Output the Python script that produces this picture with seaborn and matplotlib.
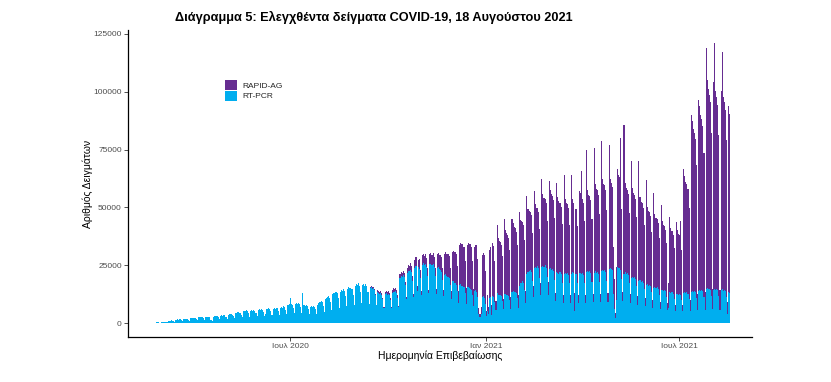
import numpy as np
import pandas as pd
import matplotlib
matplotlib.use("Agg")
import matplotlib.pyplot as plt
import matplotlib.dates as mdates
import seaborn as sns

# ---------------- data (daily values, thousands of samples) ----------------
start_date = "2020-02-24"          # first Monday of the series
series_names = ["RAPID-AG", "RT-PCR"]
series_colors = ["#662D91", "#00AEEF"]
tick_dates = ["2020-07-01", "2021-01-01", "2021-07-01"]
tick_labels = ["Ιουλ 2020", "Ιαν 2021", "Ιουλ 2021"]
y_ticks = [0, 25000, 50000, 75000, 100000, 125000]

# one line per week, Monday .. Sunday
rtpcr_k = [
    0, 0, 0.2, 0.3, 0.3, 0.3, 0.2,
    0.4, 0.5, 0.6, 0.6, 0.6, 0.5, 0.3,
    0.9, 1.0, 1.0, 1.1, 1.0, 0.8, 0.6,
    1.5, 1.6, 1.5, 1.7, 1.6, 1.3, 0.9,
    1.8, 1.9, 1.7, 1.9, 1.8, 1.5, 1.0,
    2.1, 2.2, 2.1, 2.3, 2.0, 1.8, 1.2,
    2.4, 2.6, 2.5, 2.7, 2.4, 2.1, 1.4,
    2.5, 2.8, 2.6, 2.4, 1.5, 1.2, 0.9,
    2.4, 3.0, 3.1, 3.2, 2.9, 2.4, 1.6,
    3.1, 3.3, 3.2, 3.4, 2.4, 2.5, 1.7,
    3.6, 3.8, 3.7, 3.9, 3.6, 3.0, 2.0,
    4.3, 4.5, 4.6, 4.8, 4.4, 3.6, 2.4,
    5.0, 5.3, 5.1, 5.5, 5.2, 4.2, 2.8,
    5.4, 5.6, 5.3, 5.7, 5.4, 4.5, 3.0,
    5.5, 5.9, 5.7, 6.0, 5.6, 4.7, 3.1,
    4.1, 6.2, 6.0, 6.3, 5.9, 5.0, 3.3,
    6.1, 6.4, 6.2, 6.6, 6.3, 5.1, 3.4,
    6.6, 6.9, 6.7, 7.2, 6.8, 5.5, 3.7,
    7.6, 8.2, 10.8, 8.4, 7.9, 6.6, 4.3,
    8.1, 8.6, 8.3, 8.8, 8.2, 6.9, 4.5,
    12.8, 7.9, 7.4, 7.7, 7.2, 6.2, 4.1,
    6.9, 7.3, 7.1, 7.5, 7.0, 5.9, 3.9,
    7.8, 8.6, 8.9, 9.4, 9.1, 7.4, 4.8,
    10.2, 10.9, 11.3, 11.6, 11.0, 9.0, 5.8,
    12.4, 13.1, 12.8, 13.5, 12.9, 10.6, 6.7,
    13.6, 14.2, 13.9, 14.6, 13.8, 11.5, 7.3,
    14.8, 15.7, 15.1, 15.3, 14.6, 12.3, 7.9,
    16.0, 16.8, 16.4, 17.1, 16.2, 13.4, 8.6,
    16.3, 16.9, 16.2, 16.7, 15.8, 13.2, 8.4,
    15.2, 15.6, 14.9, 15.1, 14.3, 12.1, 7.6,
    13.4, 13.1, 12.6, 12.9, 12.2, 10.3, 6.5,
    12.5, 12.8, 12.3, 12.6, 11.9, 10.1, 6.3,
    13.1, 13.6, 13.2, 13.8, 13.0, 10.9, 6.8,
    19.6, 20.4, 20.1, 20.8, 19.9, 16.4, 10.3,
    21.8, 22.6, 22.3, 23.1, 22.0, 18.2, 11.4,
    23.6, 24.5, 14.0, 24.1, 23.2, 19.5, 12.2,
    25.1, 25.8, 25.2, 25.6, 24.4, 20.4, 12.8,
    25.4, 25.6, 24.9, 25.3, 24.1, 20.2, 12.6,
    23.8, 24.1, 23.2, 23.0, 22.2, 18.6, 11.6,
    20.9, 21.2, 20.4, 20.1, 19.3, 16.3, 10.2,
    18.0, 18.2, 17.5, 17.1, 16.6, 14.0, 8.7,
    16.6, 16.9, 16.2, 16.0, 15.4, 12.9, 8.1,
    15.4, 15.6, 15.0, 14.7, 14.1, 11.9, 7.4,
    13.8, 14.2, 13.6, 11.2, 3.8, 2.4, 4.1,
    11.3, 11.6, 11.0, 8.4, 3.0, 5.2, 4.0,
    11.0, 11.4, 3.5, 11.8, 11.2, 9.1, 5.6,
    12.8, 12.2, 11.9, 12.1, 11.6, 9.7, 6.0,
    12.4, 12.6, 12.1, 12.3, 11.8, 9.9, 6.1,
    13.5, 13.7, 13.2, 13.6, 12.9, 10.8, 6.7,
    16.2, 17.1, 17.5, 18.0, 17.4, 14.3, 8.8,
    21.3, 22.0, 22.4, 22.8, 22.1, 18.0, 11.2,
    23.9, 24.4, 24.0, 24.6, 23.7, 19.4, 12.1,
    24.2, 24.8, 24.3, 24.9, 24.0, 19.8, 12.3,
    23.4, 23.8, 23.1, 23.5, 22.7, 18.8, 9.5,
    22.1, 21.8, 21.4, 21.9, 21.0, 17.5, 8.8,
    21.0, 21.6, 21.2, 21.7, 20.8, 17.3, 8.7,
    21.3, 21.9, 21.5, 5.1, 21.0, 17.4, 8.8,
    21.5, 21.7, 21.2, 21.8, 20.9, 17.3, 8.7,
    22.0, 22.4, 21.9, 22.5, 21.5, 17.8, 9.0,
    21.8, 22.3, 21.7, 22.2, 21.3, 17.7, 8.9,
    22.5, 23.0, 22.4, 23.1, 22.1, 18.3, 9.2,
    23.2, 23.8, 23.3, 23.0, 12.4, 6.1, 2.2,
    9.8, 24.2, 23.6, 24.0, 23.1, 19.1, 9.6,
    21.4, 21.9, 21.3, 21.8, 20.9, 17.3, 8.7,
    19.6, 19.9, 19.4, 19.8, 19.0, 15.8, 7.9,
    18.0, 18.4, 17.9, 18.3, 17.5, 14.5, 7.3,
    16.3, 16.7, 16.2, 16.6, 15.9, 13.2, 6.6,
    15.2, 15.6, 15.1, 15.5, 14.8, 12.3, 6.2,
    14.1, 14.4, 14.0, 14.3, 13.7, 11.4, 5.7,
    6.3, 13.4, 13.0, 13.3, 12.7, 10.5, 5.3,
    12.4, 12.7, 12.3, 12.6, 12.0, 10.0, 5.0,
    13.0, 13.4, 12.9, 13.3, 12.7, 10.5, 5.3,
    13.5, 13.9, 13.4, 13.8, 13.2, 10.9, 5.5,
    14.0, 14.4, 13.9, 14.3, 13.7, 11.4, 5.7,
    14.6, 15.0, 14.5, 14.9, 14.3, 11.8, 5.9,
    14.4, 14.8, 14.3, 14.7, 14.1, 11.6, 5.8,
    14.1, 14.5, 14.0, 14.4, 13.8, 11.4, 4.1,
    13.6, 13.1,
]

rapid_ag_k = [
    0, 0, 0, 0, 0, 0, 0,
    0, 0, 0, 0, 0, 0, 0,
    0, 0, 0, 0, 0, 0, 0,
    0, 0, 0, 0, 0, 0, 0,
    0, 0, 0, 0, 0, 0, 0,
    0, 0, 0, 0, 0, 0, 0,
    0, 0, 0, 0, 0, 0, 0,
    0, 0, 0, 0, 0, 0, 0,
    0, 0, 0, 0, 0, 0, 0,
    0, 0, 0, 0, 0, 0, 0,
    0, 0, 0, 0, 0, 0, 0,
    0, 0, 0, 0, 0, 0, 0,
    0, 0, 0, 0, 0, 0, 0,
    0, 0, 0, 0, 0, 0, 0,
    0, 0, 0, 0, 0, 0, 0,
    0, 0, 0, 0, 0, 0, 0,
    0, 0, 0, 0, 0, 0, 0,
    0, 0, 0, 0, 0, 0, 0,
    0, 0, 0, 0, 0, 0, 0,
    0, 0, 0, 0, 0, 0, 0,
    0, 0, 0, 0, 0, 0, 0,
    0, 0, 0, 0, 0, 0, 0,
    0, 0, 0, 0, 0, 0, 0,
    0, 0, 0, 0, 0, 0, 0,
    0, 0, 0, 0, 0, 0, 0,
    0, 0, 0, 0, 0, 0, 0,
    0, 0, 0, 0, 0, 0, 0,
    0, 0, 0, 0, 0, 0, 0,
    0, 0, 0, 0, 0, 0, 0,
    0.4, 0.5, 0.6, 0.5, 0.5, 0.4, 0.2,
    0.8, 0.9, 0.8, 1.0, 0.9, 0.7, 0.4,
    1.0, 1.1, 1.0, 1.2, 1.1, 0.9, 0.5,
    1.3, 1.4, 1.5, 1.4, 1.3, 1.1, 0.6,
    1.6, 1.8, 1.7, 1.9, 1.8, 1.4, 0.8,
    2.2, 2.6, 2.4, 2.8, 2.5, 2.1, 1.1,
    3.6, 4.2, 2.0, 3.1, 4.4, 3.4, 1.7,
    4.3, 4.0, 3.8, 4.1, 3.9, 3.2, 1.6,
    4.6, 4.5, 4.4, 4.8, 4.6, 3.7, 1.9,
    6.0, 6.2, 6.4, 6.6, 6.3, 5.1, 2.5,
    9.0, 9.3, 9.5, 9.8, 9.6, 7.7, 3.8,
    12.6, 13.0, 13.2, 13.5, 13.1, 10.5, 5.2,
    17.2, 17.5, 17.8, 18.1, 17.4, 14.0, 7.0,
    18.4, 18.9, 19.1, 19.4, 18.7, 15.1, 7.5,
    19.1, 19.6, 20.0, 16.3, 2.6, 1.6, 3.0,
    18.2, 18.8, 18.5, 14.1, 2.1, 6.8, 2.8,
    20.5, 21.6, 4.3, 22.8, 21.9, 17.5, 4.1,
    29.4, 24.6, 23.7, 22.9, 22.1, 19.2, 4.4,
    32.6, 27.8, 26.7, 25.8, 25.0, 21.7, 5.0,
    31.5, 29.4, 28.2, 27.3, 26.5, 22.9, 5.3,
    31.8, 27.6, 26.5, 25.7, 24.8, 21.5, 5.0,
    33.5, 27.1, 26.0, 25.2, 24.4, 21.1, 4.9,
    33.0, 27.0, 25.9, 25.1, 24.3, 21.1, 5.0,
    38.1, 31.0, 29.8, 28.8, 27.9, 24.2, 5.6,
    38.2, 33.9, 32.5, 31.5, 30.5, 26.4, 3.4,
    38.3, 32.5, 31.2, 30.2, 29.3, 25.4, 3.2,
    43.1, 32.1, 30.8, 29.9, 28.9, 25.0, 3.2,
    42.8, 31.6, 30.3, 7.9, 28.4, 24.6, 3.1,
    35.6, 34.4, 44.6, 32.0, 31.0, 26.8, 3.3,
    52.8, 35.0, 33.6, 32.6, 31.5, 27.3, 3.4,
    54.0, 37.8, 36.3, 35.2, 34.0, 29.5, 3.6,
    56.3, 39.4, 37.8, 36.6, 35.5, 30.7, 3.7,
    53.6, 38.6, 37.1, 35.9, 20.6, 12.8, 2.0,
    14.5, 42.3, 40.6, 39.3, 56.7, 30.0, 3.8,
    64.2, 38.6, 37.1, 35.9, 34.7, 30.1, 3.7,
    50.3, 38.4, 36.9, 35.7, 34.6, 30.0, 3.6,
    52.1, 35.9, 34.5, 33.4, 32.3, 28.0, 3.4,
    45.6, 33.6, 32.3, 31.2, 30.2, 26.2, 3.2,
    40.9, 31.6, 30.3, 29.4, 28.4, 24.6, 3.0,
    36.8, 29.7, 28.5, 27.6, 26.7, 23.2, 2.8,
    10.8, 32.5, 28.0, 26.3, 25.5, 22.1, 2.7,
    31.3, 27.4, 26.3, 25.5, 32.1, 21.4, 2.6,
    53.8, 50.1, 48.1, 46.6, 45.1, 39.1, 4.8,
    76.3, 73.5, 70.6, 68.4, 66.2, 57.3, 7.0,
    82.5, 79.4, 76.2, 73.8, 71.5, 61.9, 7.5,
    104.3, 90.1, 86.5, 83.8, 81.1, 70.3, 8.6,
    89.7, 106.2, 86.0, 83.0, 80.3, 69.6, 8.5,
    86.2, 102.6, 83.8, 81.2, 78.5, 67.9, 4.8,
    80.1, 77.4,
]

assert len(rtpcr_k) == len(rapid_ag_k), (len(rtpcr_k), len(rapid_ag_k))

# ---------------- long table for seaborn ----------------
dates = pd.date_range(start_date, periods=len(rtpcr_k), freq="D")
day_num = mdates.date2num(dates)
df = pd.concat([
    pd.DataFrame({"day": day_num, "count": np.array(rapid_ag_k) * 1000, "type": series_names[0]}),
    pd.DataFrame({"day": day_num, "count": np.array(rtpcr_k) * 1000, "type": series_names[1]}),
], ignore_index=True)

sns.set_theme(style="white")
plt.rcParams["font.family"] = ["Liberation Sans", "DejaVu Sans"]

W, H = 831, 382
fig = plt.figure(figsize=(W / 100, H / 100), dpi=100)
ax = fig.add_axes([128 / W, 45 / H, 624 / W, 307 / H])

sns.histplot(
    data=df, x="day", weights="count", hue="type",
    hue_order=series_names, palette=dict(zip(series_names, series_colors)),
    multiple="stack", discrete=True, shrink=0.94, element="bars",
    fill=True, alpha=1, linewidth=0, antialiased=False, ax=ax,
)

ax.set_xlim(mdates.date2num(pd.Timestamp("2020-01-31")), mdates.date2num(pd.Timestamp("2021-09-07")))
ax.set_ylim(-6050, 126700)

ax.set_xticks(mdates.date2num(pd.to_datetime(tick_dates)))
ax.set_xticklabels(tick_labels)
ax.set_yticks(y_ticks)
ax.set_yticklabels([str(v) for v in y_ticks])

for s in ["top", "right"]:
    ax.spines[s].set_visible(False)
for s in ["left", "bottom"]:
    ax.spines[s].set_color("black")
    ax.spines[s].set_linewidth(0.9)

ax.tick_params(axis="both", bottom=True, left=True, length=2.7, width=0.6,
               color="#333333", labelsize=6, labelcolor="#4D4D4D", pad=1.8)

ax.set_xlabel("Ημερομηνία Επιβεβαίωσης", fontsize=7.5, color="black")
ax.set_ylabel("Αριθμός Δειγμάτων", fontsize=7.5, color="black")
ax.xaxis.set_label_coords(0.5, -0.045)
ax.yaxis.set_label_coords(-0.056, 0.5)

sns.move_legend(
    ax, "upper left", bbox_to_anchor=((225 - 128) / 624, (337 - 80) / 307),
    title=None, frameon=False, fontsize=6, handlelength=1.45, handleheight=1.45,
    labelspacing=0.1, handletextpad=0.6, borderpad=0, borderaxespad=0,
)

fig.text(175 / W, 1 - 17 / H, "Διάγραμμα 5: Ελεγχθέντα δείγματα COVID-19, 18 Αυγούστου 2021",
         ha="left", va="center", fontsize=9.2, fontweight="bold", color="black")

fig.savefig("out.png", dpi=100)
